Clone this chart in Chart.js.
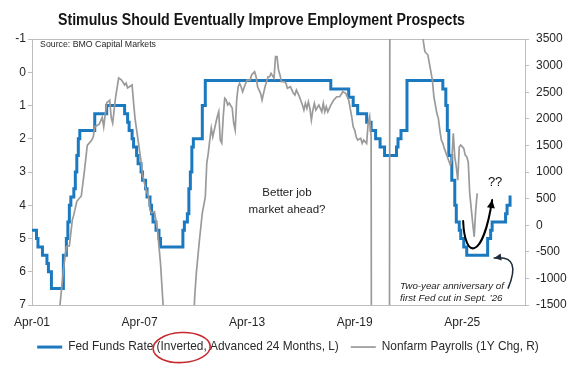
<!DOCTYPE html>
<html><head><meta charset="utf-8">
<script src="https://cdn.jsdelivr.net/npm/chart.js@4.4.1/dist/chart.umd.min.js"></script>
<style>html,body{margin:0;padding:0;background:#fff;}canvas{display:block;}</style>
</head><body>
<canvas id="c" width="576" height="367"></canvas>
<script>
// ---------- DATA ----------
const chartTitle = 'Stimulus Should Eventually Improve Employment Prospects';
const sourceNote = 'Source: BMO Capital Markets';
const seriesNames = ['Fed Funds Rate (Inverted, Advanced 24 Months, L)', 'Nonfarm Payrolls (1Y Chg, R)'];
const highlightWord = '(Inverted,';
const xTickLabels = ['Apr-01', 'Apr-07', 'Apr-13', 'Apr-19', 'Apr-25'];
const xRange = ['2001-04', '2028-10'];
const leftTicks = [-1, 0, 1, 2, 3, 4, 5, 6, 7];
const rightTicks = [-1500, -1000, -500, 0, 500, 1000, 1500, 2000, 2500, 3000, 3500];
const noteLines = ['Better job', 'market ahead?'];
const questionText = '??';
const anniversaryLines = ['Two-year anniversary of', 'first Fed cut in Sept. \u201926'];

// Fed funds rate (%), dates as plotted (advanced 24 months); value holds until next date
const fedDates = ['2001-04','2001-07','2001-08','2001-11','2002-02','2002-03','2002-05','2003-01','2003-03','2003-04','2003-05','2003-06','2003-08','2003-09','2003-10','2003-11','2003-12','2004-10','2005-06','2006-06','2006-08','2006-09','2006-11','2006-12','2007-02','2007-03','2007-05','2007-06','2007-08','2007-09','2007-11','2007-12','2008-01','2008-03','2008-05','2008-06','2009-09','2009-10','2009-12','2010-01','2010-02','2010-03','2010-04','2010-10','2010-12','2017-12','2018-12','2019-03','2019-06','2019-12','2020-03','2020-06','2020-09','2020-12','2021-08','2021-09','2021-11','2022-03','2024-03','2024-05','2024-06','2024-07','2024-09','2024-11','2024-12','2025-02','2025-03','2025-05','2025-07','2026-09','2026-11','2026-12','2027-09','2027-10','2027-12','2028-01'];
const fedRates = [4.75,5.0,5.25,5.5,5.75,6.0,6.5,5.5,5.0,4.5,4.0,3.75,3.5,3.0,2.5,2.0,1.75,1.25,1.0,1.25,1.5,1.75,2.0,2.25,2.5,2.75,3.0,3.25,3.5,3.75,4.0,4.25,4.5,4.75,5.0,5.25,4.75,4.5,4.25,3.5,3.0,2.25,2.0,1.0,0.25,0.5,0.75,1.0,1.25,1.5,1.75,2.0,2.25,2.5,2.25,2.0,1.75,0.25,0.5,1.0,1.75,2.5,3.25,4.0,4.5,4.75,5.0,5.25,5.5,5.0,4.75,4.5,4.25,4.0,3.75,3.75];

// Nonfarm payrolls, 1-year change (thousands)
const payDates = ['2002-09','2003-01','2003-03','2003-05','2003-07','2003-08','2003-10','2004-01','2004-03','2004-05','2004-08','2004-09','2004-10','2005-01','2005-03','2005-04','2005-06','2005-08','2005-09','2005-10','2005-12','2006-02','2006-04','2006-06','2006-07','2006-08','2006-11','2006-12','2007-01','2007-02','2007-04','2007-05','2007-06','2007-08','2007-10','2007-11','2007-12','2008-02','2008-04','2008-06','2008-08','2008-12','2009-08','2009-12','2010-02','2010-05','2010-06','2010-08','2010-10','2010-12','2011-01','2011-02','2011-03','2011-04','2011-05','2011-06','2011-08','2011-09','2011-10','2011-11','2011-12','2012-01','2012-02','2012-03','2012-04','2012-06','2012-07','2012-08','2012-09','2012-10','2012-11','2012-12','2013-01','2013-03','2013-04','2013-06','2013-07','2013-09','2013-10','2013-11','2014-01','2014-02','2014-03','2014-04','2014-05','2014-06','2014-07','2014-08','2014-10','2014-11','2014-12','2015-01','2015-02','2015-03','2015-05','2015-06','2015-07','2015-09','2015-10','2015-11','2015-12','2016-01','2016-02','2016-03','2016-05','2016-06','2016-07','2016-08','2016-09','2016-10','2016-11','2016-12','2017-01','2017-02','2017-04','2017-05','2017-06','2017-07','2017-08','2017-09','2017-10','2017-12','2018-02','2018-04','2018-06','2018-08','2018-10','2018-12','2019-02','2019-03','2019-04','2019-05','2019-06','2019-08','2019-09','2019-10','2019-12','2020-01','2020-02','2020-03','2020-04','2021-03','2021-04','2022-02','2022-12','2023-01','2023-02','2023-03','2023-05','2023-06','2023-08','2023-09','2023-11','2023-12','2024-01','2024-02','2024-03','2024-04','2024-06','2024-08','2024-09','2024-10','2024-11','2024-12','2025-01','2025-02','2025-03','2025-05','2025-06','2025-07','2025-08','2025-09','2025-11','2025-12','2026-01','2026-02'];
const payValues = [-2000,-843,-400,-390,100,200,450,550,1000,1500,1600,1660,1850,1900,2030,1850,2300,2350,2030,1920,2415,2767,2730,2635,2673,2580,2635,2300,2000,1800,1400,1200,950,700,535,285,230,253,-90,-710,-1600,-3500,-5500,-4500,-3000,-1300,-900,-300,230,535,1170,1357,1600,1827,1663,1790,2040,2133,1600,1545,2040,2385,2353,2260,2297,2203,1921,1790,2353,2603,2667,2603,2509,2667,2729,2729,2823,2885,2791,2603,2479,2353,2479,2603,2697,2791,2791,2855,2761,3167,3167,2917,2823,2697,2697,2667,2573,2603,2541,2479,2447,2541,2479,2415,2259,2165,2291,2197,2321,2197,1977,2165,2291,2165,2259,2197,2133,2291,2133,2227,2133,2259,2353,2415,2415,2509,2479,2353,2040,1851,1789,1663,1601,1633,1539,1601,1539,1915,2040,1663,-19500,-8400,14700,6500,4300,3800,3450,3261,3199,3043,2729,2415,2103,2009,1789,1601,1539,1445,1287,1131,1225,1727,1287,1099,849,1475,1507,1445,1319,1287,1193,599,35,-217,285,599];

// ---------- HELPERS ----------
const monthNames = ['Jan','Feb','Mar','Apr','May','Jun','Jul','Aug','Sep','Oct','Nov','Dec'];
const BASE_Y = 2001, BASE_M = 4;
const mIdx = s => { const [y, m] = s.split('-').map(Number); return (y - BASE_Y) * 12 + (m - BASE_M); };
const tickIdx = l => { const [mon, yy] = l.split('-'); return (2000 + Number(yy) - BASE_Y) * 12 + (monthNames.indexOf(mon) + 1 - BASE_M); };

const BLUE = '#1b79c0', GREY = '#9a9a9a', FRAME = '#bdbdbd', TXT = '#262626';
const FAM = "'Liberation Sans', Arial, sans-serif";
const mctx = document.createElement('canvas').getContext('2d');
function textW(font, s) { mctx.font = font; return mctx.measureText(s).width; }
function fit(style, s, target, base) { return base * target / textW(`${style} ${base}px ${FAM}`, s); }
const clamp = (v, a, b) => Math.max(a, Math.min(b, v));

const legendSize = clamp(fit('normal', seriesNames[0], 271, 12), 10.5, 13);
const noteSize = clamp(fit('normal', noteLines[1], 77, 12), 10, 13);
const annSize = clamp(fit('italic', anniversaryLines[0], 104, 10), 8.5, 11);
const srcSize = clamp(fit('normal', sourceNote, 116, 9.5), 8, 10.5);

function bez(ctx, pts, color, lw, headLen, headHalf) {
  ctx.save();
  ctx.strokeStyle = color; ctx.fillStyle = color; ctx.lineWidth = lw; ctx.lineCap = 'round';
  ctx.beginPath();
  ctx.moveTo(pts[0][0], pts[0][1]);
  ctx.bezierCurveTo(pts[1][0], pts[1][1], pts[2][0], pts[2][1], pts[3][0], pts[3][1]);
  ctx.stroke();
  const [tx, ty] = pts[3];
  const a = Math.atan2(ty - pts[2][1], tx - pts[2][0]);
  ctx.beginPath();
  ctx.moveTo(tx, ty);
  ctx.lineTo(tx - headLen * Math.cos(a) + headHalf * Math.sin(a), ty - headLen * Math.sin(a) - headHalf * Math.cos(a));
  ctx.lineTo(tx - headLen * Math.cos(a) - headHalf * Math.sin(a), ty - headLen * Math.sin(a) + headHalf * Math.cos(a));
  ctx.closePath(); ctx.fill();
  ctx.restore();
}

// annotation anchors in data units (x: month index, y: right-axis value)
const notePos = {
  source: { m: 5.4, yl: -0.83 },
  better: { m: 170.7, v: [605, 286] },
  qq: { m: 310, v: 812 },
  uArrow: [[288.6, 79], [289.6, -660], [301.8, -660], [308.0, 474]],
  hook: [[318.7, -1181], [324.4, -805], [323.0, -560], [309.4, -617]],
  anniv: { m: 246.4, v: [-1143, -1369] }
};

const decor = {
  id: 'decor',
  afterDraw(chart) {
    const ctx = chart.ctx, x = chart.scales.x, yR = chart.scales.yR, yL = chart.scales.yL;
    const P = (m, v) => [x.getPixelForValue(m), yR.getPixelForValue(v)];
    ctx.save();
    // title
    ctx.font = `bold 16px ${FAM}`;
    const tw = ctx.measureText(chartTitle).width;
    ctx.save();
    ctx.translate(261.5, 25);
    ctx.scale(407 / tw, 1);
    ctx.textAlign = 'center'; ctx.textBaseline = 'alphabetic'; ctx.fillStyle = '#151515';
    ctx.fillText(chartTitle, 0, 0);
    ctx.restore();
    // source
    ctx.font = `${srcSize}px ${FAM}`; ctx.fillStyle = TXT; ctx.textAlign = 'left'; ctx.textBaseline = 'middle';
    ctx.fillText(sourceNote, x.getPixelForValue(notePos.source.m), yL.getPixelForValue(notePos.source.yl));
    // better job
    ctx.font = `${noteSize}px ${FAM}`; ctx.textAlign = 'center'; ctx.fillStyle = '#222';
    noteLines.forEach((t, i) => ctx.fillText(t, x.getPixelForValue(notePos.better.m), yR.getPixelForValue(notePos.better.v[i])));
    // ??
    ctx.font = `13px ${FAM}`; ctx.fillStyle = '#111';
    ctx.fillText(questionText, x.getPixelForValue(notePos.qq.m), yR.getPixelForValue(notePos.qq.v));
    // anniversary note
    ctx.font = `italic ${annSize}px ${FAM}`; ctx.textAlign = 'left'; ctx.fillStyle = '#222';
    anniversaryLines.forEach((t, i) => ctx.fillText(t, x.getPixelForValue(notePos.anniv.m), yR.getPixelForValue(notePos.anniv.v[i])));
    // arrows
    bez(ctx, notePos.uArrow.map(p => P(p[0], p[1])), '#000', 2, 8, 4);
    bez(ctx, notePos.hook.map(p => P(p[0], p[1])), '#1e2b3a', 1.5, 7, 3.5);
    // red ellipse around highlighted legend word
    const lg = chart.legend;
    if (lg && lg.legendHitBoxes && lg.legendHitBoxes[0]) {
      const hb = lg.legendHitBoxes[0];
      const lf = `${legendSize}px ${FAM}`;
      ctx.font = lf;
      const label = seriesNames[0];
      const pos = label.indexOf(highlightWord);
      const start = hb.left + 25 + legendSize / 2;
      const pre = ctx.measureText(label.slice(0, pos)).width;
      const ww = ctx.measureText(highlightWord).width;
      const cx = start + pre + ww / 2, cy = hb.top + hb.height / 2;
      ctx.beginPath();
      ctx.ellipse(cx, cy + 0.5, ww / 2 + 3.5, 15, -0.05, 0, Math.PI * 2);
      ctx.strokeStyle = '#c62a30'; ctx.lineWidth = 1.6; ctx.stroke();
    }
    ctx.restore();
  }
};

const xMin = mIdx(xRange[0]), xMax = mIdx(xRange[1]);
const tickFont = { family: FAM, size: 12 };

new Chart(document.getElementById('c'), {
  type: 'line',
  data: {
    datasets: [
      { label: seriesNames[0], data: fedDates.map((d, i) => ({ x: mIdx(d), y: fedRates[i] })),
        xAxisID: 'x', yAxisID: 'yL', borderColor: BLUE, backgroundColor: BLUE, borderWidth: 3,
        pointRadius: 0, stepped: true, borderJoinStyle: 'miter', borderCapStyle: 'butt', order: 1 },
      { label: seriesNames[1], data: payDates.map((d, i) => ({ x: mIdx(d), y: payValues[i] })),
        xAxisID: 'x', yAxisID: 'yR', borderColor: GREY, backgroundColor: GREY, borderWidth: 1.7,
        pointRadius: 0, tension: 0, order: 0, clip: 0 }
    ]
  },
  options: {
    responsive: false, animation: false, devicePixelRatio: 1,
    layout: { padding: { top: 39, left: 0, right: 0, bottom: 4 } },
    plugins: {
      title: { display: false },
      tooltip: { enabled: false },
      legend: {
        position: 'bottom',
        labels: { usePointStyle: true, pointStyle: 'line', pointStyleWidth: 25, padding: 12,
          color: '#2a2a2a', font: { family: FAM, size: legendSize },
          sort: (a, b) => a.datasetIndex - b.datasetIndex }
      }
    },
    scales: {
      x: { type: 'linear', position: 'bottom', min: xMin, max: xMax,
        afterBuildTicks: s => { s.ticks = xTickLabels.map(l => ({ value: tickIdx(l) })); },
        ticks: { autoSkip: false, maxRotation: 0, padding: 10, color: TXT, font: tickFont,
          callback: (v, i) => xTickLabels[i] },
        grid: { display: true, drawOnChartArea: false, drawTicks: false },
        border: { display: true, color: FRAME, width: 1 },
        afterFit: s => { s.height = 24; } },
      xTop: { type: 'linear', position: 'top', min: xMin, max: xMax,
        ticks: { display: false },
        grid: { display: true, drawOnChartArea: false, drawTicks: false },
        border: { display: true, color: FRAME, width: 1 },
        afterFit: s => { s.height = 0; } },
      yL: { type: 'linear', position: 'left', reverse: true, min: leftTicks[0], max: leftTicks[leftTicks.length - 1],
        afterBuildTicks: s => { s.ticks = leftTicks.map(v => ({ value: v })); },
        ticks: { padding: 2, color: TXT, font: tickFont, callback: v => String(v) },
        grid: { display: true, drawOnChartArea: false, drawTicks: true, tickLength: 4, color: FRAME },
        border: { display: true, color: FRAME, width: 1 },
        afterFit: s => { s.width = 32; } },
      yR: { type: 'linear', position: 'right', min: rightTicks[0], max: rightTicks[rightTicks.length - 1],
        afterBuildTicks: s => { s.ticks = rightTicks.map(v => ({ value: v })); },
        ticks: { padding: 7, color: TXT, font: tickFont, callback: v => String(v) },
        grid: { display: true, drawOnChartArea: false, drawTicks: true, tickLength: 4, color: FRAME },
        border: { display: true, color: FRAME, width: 1 },
        afterFit: s => { s.width = 51; } }
    }
  },
  plugins: [decor]
});
</script>
</body></html>
